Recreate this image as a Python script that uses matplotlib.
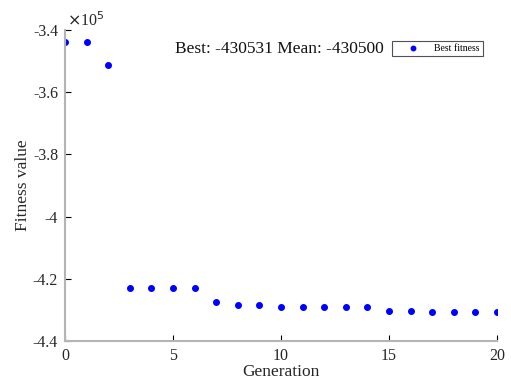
import numpy as np
import matplotlib
matplotlib.use("Agg")
import matplotlib.pyplot as plt

plt.rcParams['font.family'] = ['Liberation Serif', 'DejaVu Serif']

# best fitness per generation (values in units of 1e5)
generation = list(range(21))
best_fitness = [-3.4396, -3.4396, -3.5125, -4.2307, -4.2307, -4.2307, -4.2307,
                -4.2756, -4.2853, -4.2853, -4.2907, -4.2907, -4.2907, -4.2907,
                -4.2907, -4.3035, -4.3035, -4.3053, -4.3053, -4.3053, -4.3053]
x_ticks = [0, 5, 10, 15, 20]
y_ticks = [-4.4, -4.2, -4.0, -3.8, -3.6, -3.4]
y_labels = ['-4.4', '-4.2', '-4', '-3.8', '-3.6', '-3.4']

fig = plt.figure(figsize=(5.11, 3.88), dpi=100)
ax = fig.add_axes([65/511, 47/388, 432/511, 311/388])

ax.plot(generation, best_fitness, '.', color='#0000ff', markersize=8,
        linestyle='none', label='Best fitness')

ax.set_xlim(0, 20)
ax.set_ylim(-4.4, -3.4)
ax.set_xticks(x_ticks)
ax.set_yticks(y_ticks)
ax.set_yticklabels(y_labels)

for s in ['top', 'right']:
    ax.spines[s].set_visible(False)
for s in ['left', 'bottom']:
    ax.spines[s].set_color('#b4b4b4')
    ax.spines[s].set_linewidth(1.5)
ax.tick_params(direction='in', length=4, width=0.8, color='black',
               labelsize=11.5, labelcolor='#262626', pad=5)

ax.set_xlabel('Generation', fontsize=12.5, color='#262626', labelpad=0)
ax.set_ylabel('Fitness value', fontsize=12.5, color='#262626', labelpad=1)

ax.text(0.005, 1.0, r'$\times$10$^5$', transform=ax.transAxes, fontsize=11.5,
        color='#262626', ha='left', va='bottom', family='Liberation Serif')

ax.text(0.4965, 0.94, 'Best: -430531 Mean: -430500', transform=ax.transAxes,
        fontsize=12.5, ha='center', va='center', color='#111111')

leg = ax.legend(loc='upper right', bbox_to_anchor=(0.978, 0.98), fontsize=7,
                frameon=True, fancybox=False, markerscale=0.8,
                handlelength=3.6, borderpad=0.3, handletextpad=0.4)
leg.get_frame().set_edgecolor('#262626')
leg.get_frame().set_linewidth(0.8)

fig.savefig('out.png', dpi=100)
